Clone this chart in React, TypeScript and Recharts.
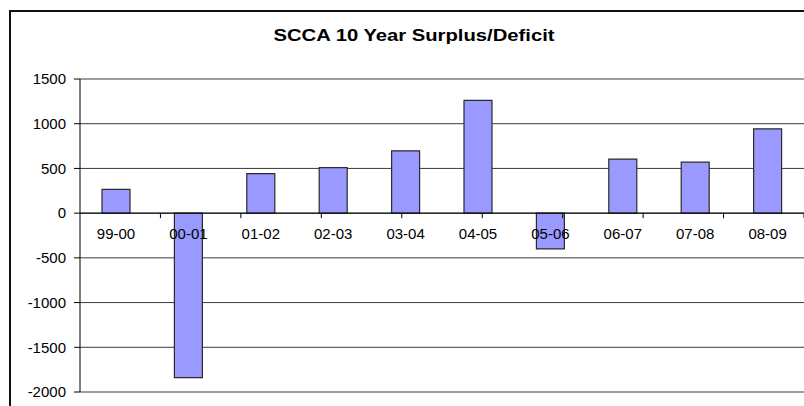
import {
  Bar,
  BarChart,
  CartesianGrid,
  LabelList,
  ReferenceLine,
  XAxis,
  YAxis,
} from "recharts";

const periods = ["99-00", "00-01", "01-02", "02-03", "03-04", "04-05", "05-06", "06-07", "07-08", "08-09"];
const surplus = [265, -1840, 443, 510, 697, 1262, -400, 605, 570, 943];
const yTicks = [-2000, -1500, -1000, -500, 0, 500, 1000, 1500];
// category boundaries (between bars) where Excel draws its tick marks
const edges = [1, 2, 3, 4, 5, 6, 7, 8, 9];

const data = periods.map((period, i) => ({ period, value: surplus[i] }));

const FONT = '"Liberation Sans", Arial, sans-serif';

/* category label sits just under the zero line, like an Excel "next to axis" label */
function PeriodLabel(props: any) {
  const { x, y, width, height, value, index } = props;
  const top = Math.min(y, y + height);
  const bottom = Math.max(y, y + height);
  const zeroY = surplus[index] >= 0 ? bottom : top;
  return (
    <text
      x={x + width / 2}
      y={zeroY + 26}
      textAnchor="middle"
      fontFamily={FONT}
      fontSize={15}
      fill="#000"
    >
      {value}
    </text>
  );
}

export default function App() {
  return (
    <div style={{ position: "relative", width: 804, height: 406, overflow: "hidden", background: "#fff" }}>
      <style>{`body{margin:0}`}</style>
      <div
        style={{
          position: "absolute",
          left: 9,
          top: 10,
          width: 900,
          height: 500,
          borderTop: "2px solid #111",
          borderLeft: "2px solid #111",
        }}
      />
      <div
        style={{
          position: "absolute",
          left: 10,
          top: 26,
          width: 808,
          textAlign: "center",
          fontFamily: FONT,
          fontWeight: "bold",
          fontSize: 17,
          transform: "scaleX(1.19)",
          transformOrigin: "50% 50%",
          color: "#000",
        }}
      >
        SCCA 10 Year Surplus/Deficit
      </div>
      <BarChart
        width={804}
        height={406}
        data={data}
        margin={{ top: 79, right: 0, bottom: 14, left: 0 }}
        style={{ position: "absolute", left: 0, top: 0 }}
      >
        <CartesianGrid vertical={false} stroke="#3a3a3a" />
        <XAxis dataKey="period" hide />
        <XAxis xAxisId="edge" type="number" domain={[0, 10]} hide />
        <YAxis
          width={80}
          domain={[-2000, 1500]}
          ticks={yTicks}
          interval={0}
          axisLine={{ stroke: "#000" }}
          tickLine={{ stroke: "#000" }}
          tickSize={6}
          tickMargin={8}
          tick={{ fill: "#000", fontSize: 15, fontFamily: FONT }}
        />
        <Bar
          dataKey="value"
          fill="#9999ff"
          stroke="#2b2b2b"
          strokeWidth={1.2}
          barSize={28}
          isAnimationActive={false}
        >
          <LabelList dataKey="period" content={PeriodLabel} />
        </Bar>
        <ReferenceLine y={0} stroke="#000" />
        {edges.map((e) => (
          <ReferenceLine
            key={e}
            xAxisId="edge"
            segment={[
              { x: e, y: 0 },
              { x: e, y: -56 },
            ]}
            stroke="#000"
          />
        ))}
      </BarChart>
    </div>
  );
}
